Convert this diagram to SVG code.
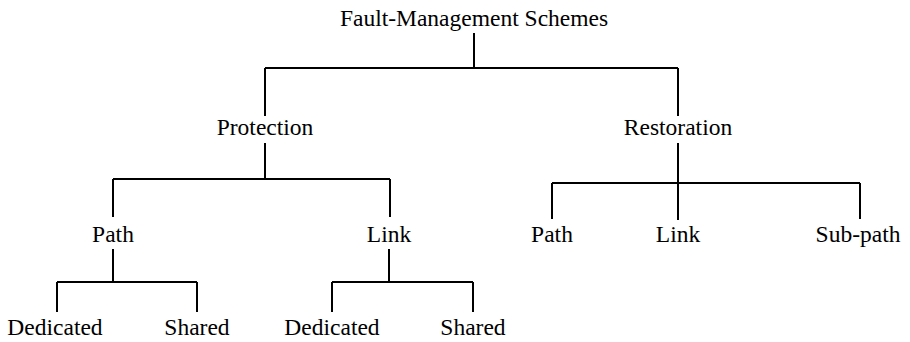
<svg xmlns="http://www.w3.org/2000/svg" width="910" height="342" viewBox="0 0 910 342">
<style>
text{font-family:"Liberation Serif","Times New Roman",serif;font-size:23.5px;fill:#000;text-anchor:middle}
.c path{fill:none;stroke:#000;stroke-width:2}
</style>
<rect width="910" height="342" fill="#fff"/>
<g class="c" id="connectors">
<path d="M474,33V68M265,68H678M265,68V116M678,68V116"/>
<path d="M265,143V179M113,179H390M113,179V217M390,179V217"/>
<path d="M113,249V282M57,282H197M57,282V312M197,282V312"/>
<path d="M389,249V282M332,282H473M332,282V312M473,282V312"/>
<path d="M678,143V220M552,183H860M552,183V219M860,183V219"/>
</g>
<g id="root"><text x="474" y="26">Fault-Management Schemes</text></g>
<g id="protection"><text x="265" y="135">Protection</text></g>
<g id="restoration"><text x="678" y="135">Restoration</text></g>
<g id="p-path"><text x="113" y="242">Path</text></g>
<g id="p-link"><text x="389" y="242">Link</text></g>
<g id="pp-dedicated"><text x="55" y="335">Dedicated</text></g>
<g id="pp-shared"><text x="197" y="335">Shared</text></g>
<g id="pl-dedicated"><text x="332" y="335">Dedicated</text></g>
<g id="pl-shared"><text x="473" y="335">Shared</text></g>
<g id="r-path"><text x="552" y="242">Path</text></g>
<g id="r-link"><text x="678" y="242">Link</text></g>
<g id="r-subpath"><text x="858" y="242">Sub-path</text></g>
</svg>
